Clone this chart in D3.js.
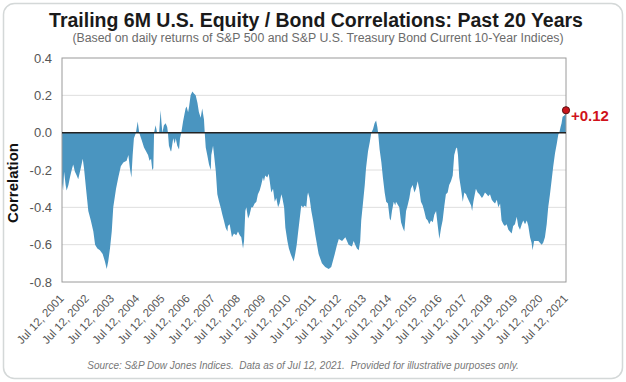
<!DOCTYPE html>
<html>
<head>
<meta charset="utf-8">
<script src="https://cdn.jsdelivr.net/npm/d3@7/dist/d3.min.js"></script>
<style>
  html, body { margin: 0; padding: 0; background: #fff; }
  svg { display: block; font-family: "Liberation Sans", Arial, sans-serif; }
</style>
</head>
<body>
<svg id="chart" width="626" height="382"></svg>
<script>
// ---------- DATA ----------
const titleText = "Trailing 6M U.S. Equity / Bond Correlations: Past 20 Years";
const subtitleText = "(Based on daily returns of S&P 500 and S&P U.S. Treasury Bond Current 10-Year Indices)";
const sourceText = "Source: S&P Dow Jones Indices.  Data as of Jul 12, 2021.  Provided for illustrative purposes only.";
const yAxisTitle = "Correlation";

// x-axis ticks (decimal years: Jul 12 of each year)
const xTickYears = [2001.526, 2002.526, 2003.526, 2004.526, 2005.526, 2006.526, 2007.526, 2008.526, 2009.526, 2010.526,
  2011.526, 2012.526, 2013.526, 2014.526, 2015.526, 2016.526, 2017.526, 2018.526, 2019.526, 2020.526, 2021.526];
const xTickLabels = ["Jul 12, 2001", "Jul 12, 2002", "Jul 12, 2003", "Jul 12, 2004", "Jul 12, 2005", "Jul 12, 2006",
  "Jul 12, 2007", "Jul 12, 2008", "Jul 12, 2009", "Jul 12, 2010", "Jul 12, 2011", "Jul 12, 2012", "Jul 12, 2013",
  "Jul 12, 2014", "Jul 12, 2015", "Jul 12, 2016", "Jul 12, 2017", "Jul 12, 2018", "Jul 12, 2019", "Jul 12, 2020", "Jul 12, 2021"];

const yTickValues = [0.4, 0.2, 0.0, -0.2, -0.4, -0.6, -0.8];
const yTickLabels = ["0.4", "0.2", "0.0", "-0.2", "-0.4", "-0.6", "-0.8"];

// trailing 6M correlation, sampled along the series (decimal year, value)
const dates = [
  2001.526, 2001.57, 2001.61, 2001.67, 2001.71, 2001.78, 2001.84, 2001.91, 2001.97, 2002.04,
  2002.11, 2002.17, 2002.27, 2002.35, 2002.40, 2002.48, 2002.57, 2002.67, 2002.77, 2002.84,
  2002.93, 2003.03, 2003.14, 2003.23, 2003.30, 2003.36, 2003.43, 2003.50, 2003.56, 2003.67,
  2003.76, 2003.86, 2003.96, 2004.09, 2004.16, 2004.22, 2004.28, 2004.33, 2004.38, 2004.46,
  2004.53, 2004.59, 2004.69, 2004.78, 2004.86, 2004.94, 2005.00, 2005.06, 2005.11, 2005.15,
  2005.18, 2005.24, 2005.30, 2005.38, 2005.44, 2005.47, 2005.51, 2005.57, 2005.64, 2005.70,
  2005.73, 2005.77, 2005.84, 2005.86, 2005.94, 2006.00, 2006.04, 2006.10, 2006.17, 2006.21,
  2006.26, 2006.33, 2006.43, 2006.47, 2006.53, 2006.57, 2006.63, 2006.70, 2006.76, 2006.83,
  2006.90, 2006.96, 2007.03, 2007.09, 2007.16, 2007.19, 2007.23, 2007.29, 2007.36, 2007.43,
  2007.45, 2007.52, 2007.56, 2007.63, 2007.69, 2007.76, 2007.82, 2007.89, 2007.95, 2008.02,
  2008.09, 2008.11, 2008.18, 2008.27, 2008.35, 2008.44, 2008.51, 2008.58, 2008.64, 2008.71,
  2008.75, 2008.80, 2008.84, 2008.91, 2008.97, 2009.04, 2009.10, 2009.17, 2009.24, 2009.30,
  2009.37, 2009.43, 2009.50, 2009.54, 2009.59, 2009.67, 2009.73, 2009.77, 2009.83, 2009.90,
  2009.97, 2010.03, 2010.10, 2010.16, 2010.23, 2010.27, 2010.34, 2010.39, 2010.47, 2010.53,
  2010.60, 2010.66, 2010.72, 2010.78, 2010.84, 2010.89, 2010.96, 2011.02, 2011.09, 2011.16,
  2011.22, 2011.26, 2011.29, 2011.35, 2011.42, 2011.49, 2011.58, 2011.71, 2011.84, 2011.97,
  2012.11, 2012.21, 2012.27, 2012.35, 2012.44, 2012.51, 2012.64, 2012.77, 2012.90, 2013.03,
  2013.10, 2013.16, 2013.23, 2013.30, 2013.36, 2013.40, 2013.46, 2013.54, 2013.59, 2013.67,
  2013.74, 2013.80, 2013.87, 2013.93, 2013.99, 2014.04, 2014.07, 2014.13, 2014.20, 2014.26,
  2014.33, 2014.39, 2014.46, 2014.53, 2014.57, 2014.62, 2014.69, 2014.75, 2014.78, 2014.91,
  2014.98, 2015.05, 2015.11, 2015.18, 2015.24, 2015.31, 2015.37, 2015.44, 2015.51, 2015.57,
  2015.64, 2015.70, 2015.77, 2015.84, 2015.90, 2015.97, 2016.04, 2016.10, 2016.17, 2016.24,
  2016.30, 2016.37, 2016.43, 2016.50, 2016.57, 2016.63, 2016.70, 2016.76, 2016.83, 2016.89,
  2016.96, 2017.03, 2017.09, 2017.16, 2017.20, 2017.24, 2017.29, 2017.36, 2017.43, 2017.49,
  2017.56, 2017.62, 2017.69, 2017.76, 2017.80, 2017.85, 2017.95, 2018.02, 2018.09, 2018.19,
  2018.24, 2018.31, 2018.38, 2018.44, 2018.51, 2018.58, 2018.64, 2018.71, 2018.78, 2018.84,
  2018.91, 2018.97, 2019.04, 2019.10, 2019.17, 2019.24, 2019.30, 2019.37, 2019.43, 2019.50,
  2019.57, 2019.63, 2019.70, 2019.77, 2019.83, 2019.90, 2019.97, 2020.03, 2020.10, 2020.16,
  2020.20, 2020.26, 2020.36, 2020.43, 2020.49, 2020.56, 2020.62, 2020.69, 2020.76, 2020.82,
  2020.89, 2020.96, 2021.02, 2021.09, 2021.16, 2021.22, 2021.26, 2021.31, 2021.35, 2021.39,
  2021.45, 2021.50, 2021.526
];
const corr = [
  -0.27, -0.31, -0.21, -0.28, -0.31, -0.28, -0.24, -0.20, -0.17, -0.21,
  -0.23, -0.25, -0.19, -0.14, -0.19, -0.30, -0.42, -0.47, -0.53, -0.60,
  -0.62, -0.63, -0.65, -0.69, -0.73, -0.69, -0.62, -0.53, -0.40, -0.30,
  -0.24, -0.18, -0.16, -0.15, -0.12, -0.19, -0.24, -0.12, -0.03, 0.00,
  0.06, 0.00, -0.04, -0.08, -0.10, -0.12, -0.15, -0.14, -0.20, -0.19,
  0.00, 0.04, 0.00, 0.00, 0.12, 0.06, 0.00, 0.04, 0.05, 0.03,
  0.00, -0.07, -0.10, -0.10, -0.03, -0.06, -0.03, -0.07, -0.09, -0.03,
  0.00, 0.06, 0.13, 0.14, 0.11, 0.14, 0.20, 0.22, 0.21, 0.20,
  0.16, 0.11, 0.08, 0.13, 0.07, 0.00, -0.08, -0.12, -0.17, -0.20,
  -0.12, -0.07, -0.12, -0.21, -0.33, -0.37, -0.40, -0.44, -0.47, -0.51,
  -0.53, -0.50, -0.49, -0.56, -0.54, -0.55, -0.53, -0.55, -0.56, -0.62,
  -0.58, -0.42, -0.40, -0.46, -0.44, -0.40, -0.40, -0.38, -0.37, -0.33,
  -0.31, -0.28, -0.24, -0.26, -0.23, -0.24, -0.22, -0.26, -0.32, -0.30,
  -0.37, -0.35, -0.40, -0.38, -0.33, -0.35, -0.40, -0.51, -0.58, -0.62,
  -0.65, -0.67, -0.69, -0.65, -0.60, -0.54, -0.46, -0.39, -0.40, -0.39,
  -0.40, -0.34, -0.32, -0.35, -0.42, -0.47, -0.55, -0.65, -0.70, -0.72,
  -0.73, -0.72, -0.69, -0.65, -0.60, -0.57, -0.58, -0.56, -0.60, -0.61,
  -0.58, -0.60, -0.62, -0.63, -0.58, -0.47, -0.39, -0.28, -0.19, -0.10,
  -0.05, 0.00, 0.02, 0.05, 0.065, 0.03, 0.00, -0.09, -0.16, -0.24,
  -0.32, -0.37, -0.38, -0.46, -0.47, -0.42, -0.37, -0.39, -0.37, -0.40,
  -0.48, -0.51, -0.53, -0.42, -0.39, -0.35, -0.30, -0.28, -0.32, -0.30,
  -0.26, -0.30, -0.37, -0.39, -0.42, -0.46, -0.47, -0.49, -0.47, -0.48,
  -0.44, -0.42, -0.49, -0.57, -0.51, -0.47, -0.39, -0.33, -0.32, -0.28,
  -0.26, -0.23, -0.12, -0.085, -0.08, -0.12, -0.24, -0.30, -0.37, -0.32,
  -0.33, -0.35, -0.37, -0.39, -0.42, -0.37, -0.30, -0.32, -0.33, -0.35,
  -0.34, -0.32, -0.33, -0.34, -0.33, -0.36, -0.37, -0.38, -0.36, -0.40,
  -0.38, -0.47, -0.49, -0.50, -0.49, -0.52, -0.53, -0.54, -0.50, -0.49,
  -0.45, -0.50, -0.52, -0.49, -0.47, -0.49, -0.47, -0.50, -0.56, -0.59,
  -0.63, -0.58, -0.58, -0.58, -0.59, -0.60, -0.59, -0.56, -0.49, -0.40,
  -0.33, -0.25, -0.18, -0.11, -0.06, -0.01, 0.00, 0.03, 0.05, 0.085,
  0.09, 0.10, 0.12
];
const lastLabel = "+0.12";

// ---------- CHART ----------
const svg = d3.select("#chart");
const W = 626, H = 382;
const plot = { left: 62, right: 566, top: 58, bottom: 282 };

const series = dates.map((d, i) => ({ t: d, v: corr[i] }));

const x = d3.scaleLinear().domain([xTickYears[0], xTickYears[xTickYears.length - 1]]).range([plot.left, plot.right]);
const y = d3.scaleLinear().domain([-0.8, 0.4]).range([plot.bottom, plot.top]);

// outer frame
svg.append("rect")
  .attr("x", 3.5).attr("y", 3.5).attr("width", W - 7).attr("height", H - 7)
  .attr("rx", 11).attr("ry", 11)
  .attr("fill", "#fff").attr("stroke", "#d4d8d8").attr("stroke-width", 1.5);

// title
svg.append("text")
  .attr("x", 316).attr("y", 27)
  .attr("text-anchor", "middle")
  .attr("font-size", "19.5px").attr("font-weight", "bold").attr("fill", "#1a1a1a")
  .text(titleText);
svg.append("text")
  .attr("x", 318).attr("y", 42)
  .attr("text-anchor", "middle")
  .attr("font-size", "12.3px").attr("fill", "#6b6b6b")
  .text(subtitleText);

// gridlines
svg.append("g")
  .selectAll("line")
  .data(yTickValues.filter(v => v !== 0 && v !== 0.4 && v !== -0.8))
  .join("line")
  .attr("x1", plot.left).attr("x2", plot.right)
  .attr("y1", d => y(d)).attr("y2", d => y(d))
  .attr("stroke", "#dedede").attr("stroke-width", 1);

// area
const area = d3.area()
  .x(d => x(d.t))
  .y0(y(0))
  .y1(d => y(d.v))
  .curve(d3.curveLinear);
svg.append("path")
  .datum(series)
  .attr("d", area)
  .attr("fill", "#4a95c0");

// plot border
svg.append("rect")
  .attr("x", plot.left).attr("y", plot.top)
  .attr("width", plot.right - plot.left).attr("height", plot.bottom - plot.top)
  .attr("fill", "none").attr("stroke", "#9a9a9a").attr("stroke-width", 1);

// zero line
svg.append("line")
  .attr("x1", plot.left).attr("x2", plot.right)
  .attr("y1", y(0)).attr("y2", y(0))
  .attr("stroke", "#222").attr("stroke-width", 1.5);

// y axis
const yAxis = d3.axisLeft(y)
  .tickValues(yTickValues)
  .tickFormat((d, i) => yTickLabels[i])
  .tickSize(0).tickPadding(10);
const gy = svg.append("g").attr("transform", `translate(${plot.left},0)`).call(yAxis);
gy.select(".domain").remove();
gy.selectAll("text")
  .attr("font-size", "13px").attr("fill", "#555")
  .attr("font-family", "Liberation Sans, Arial, sans-serif");

// y title
svg.append("text")
  .attr("transform", "translate(18,183) rotate(-90)")
  .attr("text-anchor", "middle")
  .attr("font-size", "15px").attr("font-weight", "bold").attr("fill", "#111")
  .text(yAxisTitle);

// x axis
const xAxis = d3.axisBottom(x)
  .tickValues(xTickYears)
  .tickFormat((d, i) => xTickLabels[i])
  .tickSize(0);
const gx = svg.append("g").attr("transform", `translate(0,${plot.bottom})`).call(xAxis);
gx.select(".domain").remove();
gx.selectAll("text")
  .attr("font-size", "11.5px").attr("fill", "#555")
  .attr("font-family", "Liberation Sans, Arial, sans-serif")
  .attr("text-anchor", "end")
  .attr("y", 0).attr("dy", 0)
  .attr("transform", "translate(2,17) rotate(-47)");

// last point annotation
const last = series[series.length - 1];
svg.append("circle")
  .attr("cx", x(last.t)).attr("cy", y(last.v)).attr("r", 3.6)
  .attr("fill", "#c8141c").attr("stroke", "#5a1010").attr("stroke-width", 1);
svg.append("text")
  .attr("x", x(last.t) + 5).attr("y", y(last.v) + 5)
  .attr("dy", "0.35em")
  .attr("font-size", "15px").attr("font-weight", "bold").attr("fill", "#d0121b")
  .text(lastLabel);

// source
svg.append("text")
  .attr("x", 303).attr("y", 369)
  .attr("text-anchor", "middle")
  .attr("font-size", "10px").attr("font-style", "italic").attr("fill", "#777")
  .style("white-space", "pre")
  .text(sourceText);
</script>
</body>
</html>
